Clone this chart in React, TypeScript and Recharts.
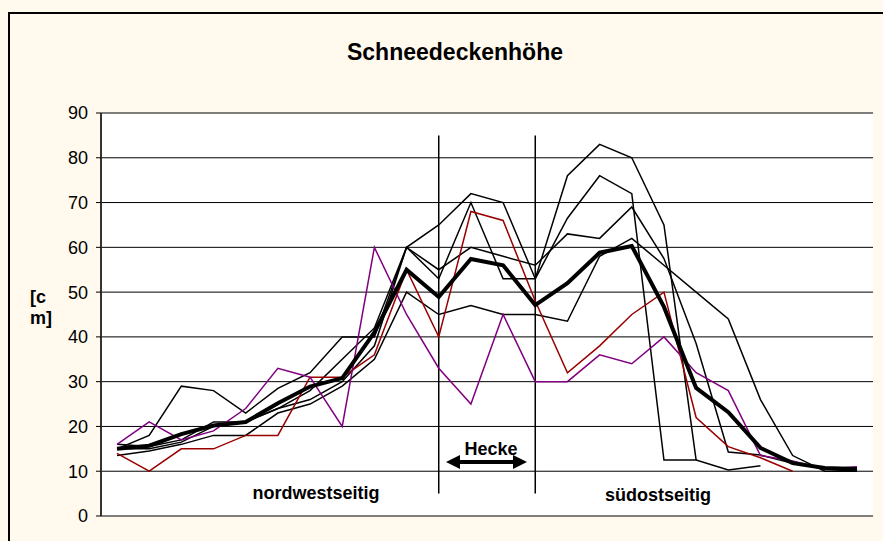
import React from "react";
import { LineChart, Line, XAxis, YAxis, CartesianGrid, ReferenceLine } from "recharts";

// Messpunkte entlang des Profils (keine Beschriftung auf der x-Achse)
const positions = [
  "1", "2", "3", "4", "5", "6", "7", "8", "9", "10", "11", "12",
  "13", "14", "15", "16", "17", "18", "19", "20", "21", "22", "23", "24",
];

const schwarz1 = [15, 18, 29, 28, 23, 28.5, 32, 40, 40, 60, 65, 72, 70, 53, 76, 83, 80, 65, 12.5, null, null, null, null, null];
const schwarz2 = [16, 15.5, 17, 21, 21, 24, 28, 35, 42, 60, 53, 70, 53, 53, 66.5, 76, 72, 12.5, 12.5, 10.3, 11.2, null, null, null];
const schwarz3 = [15, 15, 16.5, 20, 21, 24, 26, 30, 38, 60, 55, 60, 58, 56, 63, 62, 69, 57.5, 38.5, 14.3, 13.6, 11.8, 10.5, 10];
const schwarz4 = [13.5, 14.5, 16, 18, 18, 23, 25, 29, 35, 50, 45, 47, 45, 45, 43.5, 58, 62, 56, 50, 44, 26, 13.5, 10, 10];
const rot = [14, 10, 15, 15, 18, 18, 31, 31, 36, 55, 40, 68, 66, 48, 32, 38, 45, 50, 22, 15.5, 13, 10, null, null];
const violett = [16, 21, 17, 19, 24, 33, 31, 20, 60, 45, 33, 25, 45, 30, 30, 36, 34, 40, 32, 28, 13.5, 12.3, 10.5, 11];
const mittel = [15, 15.7, 18.3, 20.2, 21, 25.2, 28.9, 30.8, 41, 55, 48.9, 57.4, 56, 47.1, 52, 58.8, 60.3, 46.7, 28.6, 23.2, 15.2, 11.8, 10.7, 10.5];

const yTicks = [0, 10, 20, 30, 40, 50, 60, 70, 80, 90];

// Hecke: Beginn und Ende
const heckeStart = "11";
const heckeEnde = "14";

const data = positions.map((pos, i) => ({
  pos,
  s1: schwarz1[i],
  s2: schwarz2[i],
  s3: schwarz3[i],
  s4: schwarz4[i],
  rot: rot[i],
  violett: violett[i],
  mittel: mittel[i],
}));

const FONT = '"Liberation Sans", Arial, sans-serif';

export default function App() {
  return (
    <div
      style={{
        position: "absolute",
        left: 0,
        top: 0,
        width: 883,
        height: 541,
        background: "#FFF9EE",
        overflow: "hidden",
        fontFamily: FONT,
      }}
    >
      <div
        style={{
          position: "absolute",
          left: 8,
          top: 12,
          width: 1000,
          height: 1000,
          border: "2px solid #000",
        }}
      />
      <div style={{ position: "absolute", left: 0, top: 0 }}>
        <LineChart
          width={883}
          height={541}
          data={data}
          margin={{ top: 113, right: 10, bottom: 25, left: 0 }}
        >
          <CartesianGrid vertical={false} stroke="#000" fill="#fff" />
          <XAxis dataKey="pos" hide padding={{ left: 16, right: 16 }} />
          <YAxis
            domain={[0, 90]}
            ticks={yTicks}
            width={101}
            interval={0}
            tick={{ fontSize: 18, fill: "#000", fontFamily: FONT }}
            tickSize={5}
            tickMargin={8}
            tickLine={{ stroke: "#000" }}
            axisLine={{ stroke: "#333", strokeWidth: 2 }}
          />
          <YAxis
            yAxisId="rechts"
            orientation="right"
            domain={[0, 90]}
            width={0}
            tick={false}
            tickLine={false}
            axisLine={{ stroke: "#808080", strokeWidth: 2 }}
          />
          <ReferenceLine
            segment={[{ x: heckeStart, y: 5 }, { x: heckeStart, y: 85 }]}
            stroke="#000"
            strokeWidth={1.5}
          />
          <ReferenceLine
            segment={[{ x: heckeEnde, y: 5 }, { x: heckeEnde, y: 85 }]}
            stroke="#000"
            strokeWidth={1.5}
          />
          {["s1", "s2", "s3", "s4"].map((k) => (
            <Line
              key={k}
              type="linear"
              dataKey={k}
              stroke="#000"
              strokeWidth={1.5}
              dot={false}
              isAnimationActive={false}
            />
          ))}
          <Line type="linear" dataKey="rot" stroke="#990000" strokeWidth={1.5} dot={false} isAnimationActive={false} />
          <Line type="linear" dataKey="violett" stroke="#800080" strokeWidth={1.5} dot={false} isAnimationActive={false} />
          <Line type="linear" dataKey="mittel" stroke="#000" strokeWidth={4} dot={false} isAnimationActive={false} />
        </LineChart>
      </div>
      <svg
        width={883}
        height={541}
        style={{ position: "absolute", left: 0, top: 0, pointerEvents: "none" }}
        fontFamily={FONT}
        fontWeight="bold"
      >
        <text x={455} y={60} textAnchor="middle" fontSize={23}>
          Schneedeckenhöhe
        </text>
        <text x={30} y={303} fontSize={18}>[c</text>
        <text x={30} y={324} fontSize={18}>m]</text>
        <text x={316} y={499} textAnchor="middle" fontSize={18}>nordwestseitig</text>
        <text x={658} y={501} textAnchor="middle" fontSize={18}>südostseitig</text>
        <text x={491} y={455} textAnchor="middle" fontSize={18}>Hecke</text>
        <line x1={456} y1={462} x2={517} y2={462} stroke="#000" strokeWidth={4} />
        <polygon points="446,462 460,455 460,469" fill="#000" />
        <polygon points="527,462 513,455 513,469" fill="#000" />
      </svg>
    </div>
  );
}
